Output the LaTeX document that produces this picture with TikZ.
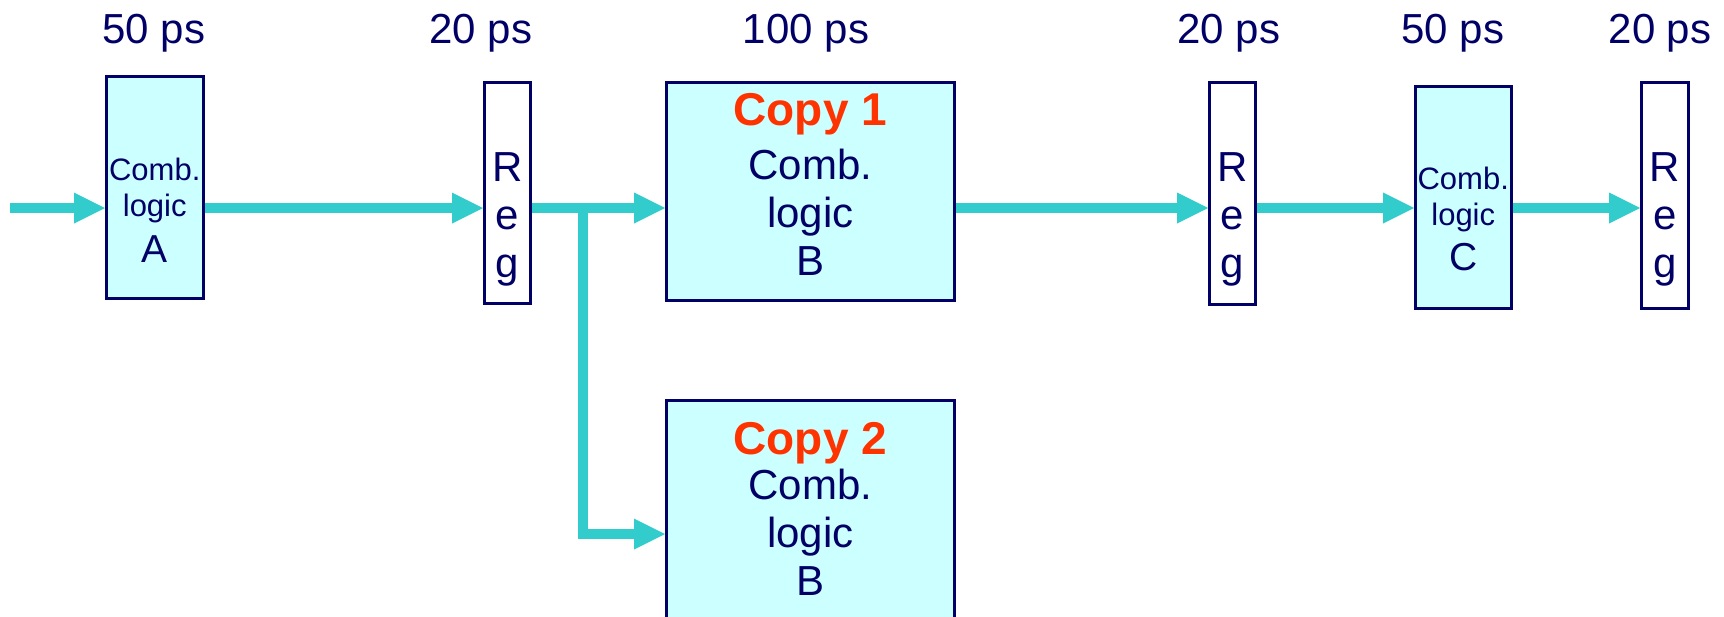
\documentclass[tikz,border=0pt]{standalone}
\usepackage{fontspec}
\setmainfont{Liberation Sans}
\usetikzlibrary{arrows.meta, positioning}
\definecolor{navy}{HTML}{000066}
\definecolor{wirecol}{HTML}{33CCCC}
\definecolor{boxfill}{HTML}{CCFFFF}
\definecolor{copyred}{HTML}{FF3300}

\begin{document}
\begin{tikzpicture}[x=1pt, y=-1pt,
  blk/.style={draw=navy, line width=2.5pt, inner sep=0pt, anchor=north west},
  comb/.style={blk, fill=boxfill},
  txt/.style={inner sep=0pt, text=navy, align=center, anchor=north},
  wire/.style={draw=wirecol, line width=10pt, -{Triangle[length=31pt, width=31pt, line width=0pt]}},
  ps/.style={text=navy, anchor=base, font=\fontsize{42}{48}\selectfont}]
\useasboundingbox (0,0) rectangle (1724,616);
\clip (0,0) rectangle (1724,616);

\node[ps] (tA) at (154,43) {50 ps};
\node[ps] (t1) at (481,43) {20 ps};
\node[ps] (tB) at (806,43) {100 ps};
\node[ps] (t2) at (1229,43) {20 ps};
\node[ps] (tC) at (1453,43) {50 ps};
\node[ps] (t3) at (1660,43) {20 ps};

\node[comb, minimum width=97pt, minimum height=222pt] (combA) at (105,75) {};
\node[blk, minimum width=46pt, minimum height=221pt] (reg1) at (483,81) {};
\node[comb, minimum width=288pt, minimum height=218pt] (copyA) at (665,81) {};
\node[comb, minimum width=288pt, minimum height=281pt] (copyB) at (665,399) {};
\node[blk, minimum width=46pt, minimum height=222pt] (reg2) at (1208,81) {};
\node[comb, minimum width=96pt, minimum height=222pt] (combC) at (1414,85) {};
\node[blk, minimum width=47pt, minimum height=226pt] (reg3) at (1640,81) {};

\node[txt, font=\fontsize{31}{36}\selectfont, below=83pt of combA.north] (combAtxt) {Comb.\\logic\\[10pt]{\fontsize{39}{44}\selectfont A}};
\node[txt, font=\fontsize{31}{36}\selectfont, below=82pt of combC.north] (combCtxt) {Comb.\\logic\\[9pt]{\fontsize{39}{44}\selectfont C}};
\node[txt, font=\fontsize{42}{48}\selectfont, below=71pt of reg1.north] (reg1txt) {R\\e\\g};
\node[txt, font=\fontsize{42}{48}\selectfont, below=71pt of reg2.north] (reg2txt) {R\\e\\g};
\node[txt, font=\fontsize{42}{48}\selectfont, below=71pt of reg3.north] (reg3txt) {R\\e\\g};
\node[txt, font=\fontsize{42}{48}\selectfont, below=12pt of copyA.north] (copyAtxt) {{\color{copyred}\bfseries\fontsize{46}{48}\selectfont Copy 1}\\[6pt]Comb.\\logic\\B};
\node[txt, font=\fontsize{42}{48}\selectfont, below=23pt of copyB.north] (copyBtxt) {{\color{copyred}\bfseries\fontsize{46}{48}\selectfont Copy 2}\\[-3pt]Comb.\\logic\\B};

\coordinate (in) at (10,208);
\coordinate (split) at (583,208);
\coordinate (bend) at (583,534);
\draw[wire] (in) -- (combA.west |- in);
\draw[wire] (combA.east |- in) -- (reg1.west |- in);
\draw[wire] (reg1.east |- in) -- (copyA.west |- in);
\draw[wire] (split) -- (bend) -- (copyB.west |- bend);
\draw[wire] (copyA.east |- in) -- (reg2.west |- in);
\draw[wire] (reg2.east |- in) -- (combC.west |- in);
\draw[wire] (combC.east |- in) -- (reg3.west |- in);
\end{tikzpicture}
\end{document}
